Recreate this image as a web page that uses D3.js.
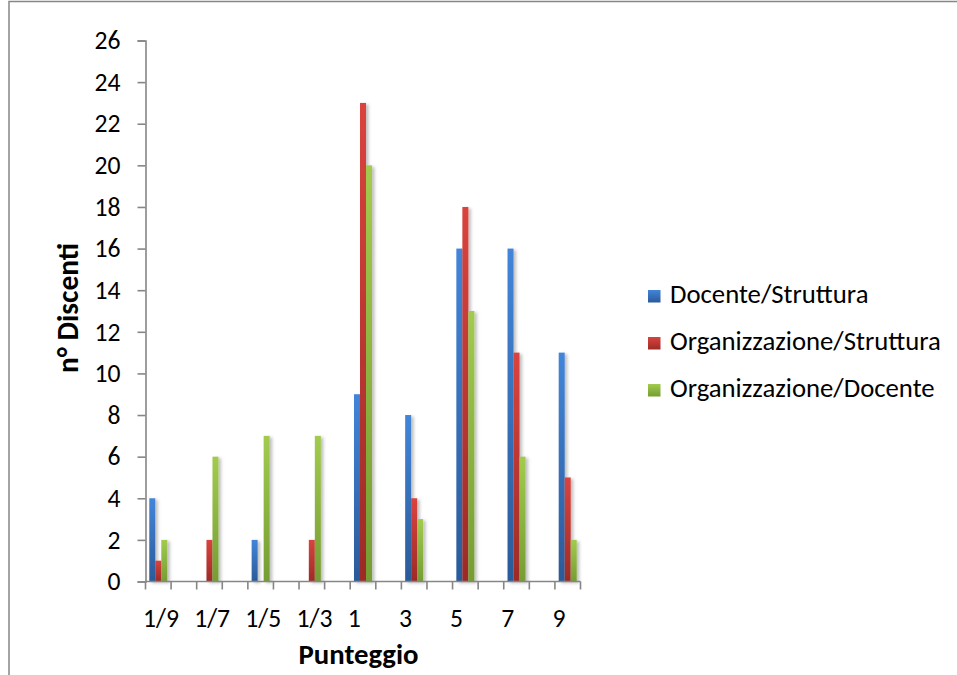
<!DOCTYPE html>
<html>
<head>
<meta charset="utf-8">
<script src="https://cdn.jsdelivr.net/npm/d3@7"></script>
<style>
  html, body { margin: 0; padding: 0; background: #fff; }
  svg { display: block; font-family: Carlito, Calibri, Lato, "Open Sans", sans-serif; }
</style>
</head>
<body>
<svg id="chart" width="957" height="675"></svg>
<script>
// Score categories (one every other slot on the axis)
const categories = ["1/9", "1/7", "1/5", "1/3", "1", "3", "5", "7", "9"];
const seriesNames = ["Docente/Struttura", "Organizzazione/Struttura", "Organizzazione/Docente"];
const docenteStruttura        = [4, 0, 2, 0, 9, 8, 16, 16, 11];
const organizzazioneStruttura = [1, 2, 0, 2, 23, 4, 18, 11, 5];
const organizzazioneDocente   = [2, 6, 7, 7, 20, 3, 13, 6, 2];
const yTicks = d3.range(0, 27, 2);

const seriesValues = [docenteStruttura, organizzazioneStruttura, organizzazioneDocente];
const colors = [
  { top: "#4285d9", bottom: "#2b5a99" },
  { top: "#da433e", bottom: "#9c2b27" },
  { top: "#a2cb4e", bottom: "#759d33" }
];

const svg = d3.select("#chart");
const W = 957, H = 675;
const plot = { left: 145.5, right: 580.5, top: 40.5, bottom: 581.5 };

// Scale a text selection's font size so that a sample string spans a given width
function fitFont(sel, sample, width, weight) {
  const probe = svg.append("text").attr("font-size", 100)
    .attr("font-weight", weight || "normal").text(sample);
  const w = probe.node().getComputedTextLength();
  probe.remove();
  const size = 100 * width / w;
  sel.attr("font-size", size);
  return size;
}

// Outer frame
svg.append("rect")
  .attr("x", 9).attr("y", 1.5)
  .attr("width", W + 10).attr("height", H + 10)
  .attr("fill", "#fff").attr("stroke", "#868686").attr("stroke-width", 1.5);

const defs = svg.append("defs");
colors.forEach((c, i) => {
  const g = defs.append("linearGradient")
    .attr("id", "grad" + i).attr("x1", 0).attr("y1", 0).attr("x2", 0).attr("y2", 1);
  g.append("stop").attr("offset", "0%").attr("stop-color", c.top);
  g.append("stop").attr("offset", "100%").attr("stop-color", c.bottom);
});
const shadow = defs.append("filter").attr("id", "shadow")
  .attr("x", "-50%").attr("y", "-10%").attr("width", "250%").attr("height", "120%");
shadow.append("feDropShadow")
  .attr("dx", 2.5).attr("dy", 1.5).attr("stdDeviation", 1.6)
  .attr("flood-color", "#000").attr("flood-opacity", 0.25);

// 17 slots: labelled categories sit in the even slots
const nSlots = categories.length * 2 - 1;
const x = d3.scaleBand()
  .domain(d3.range(nSlots))
  .range([plot.left, plot.right])
  .paddingInner(0).paddingOuter(0);
const xSub = d3.scaleBand()
  .domain(d3.range(seriesNames.length))
  .range([0, x.bandwidth()])
  .paddingOuter(0.63);

const y = d3.scaleLinear().domain([0, 26]).range([plot.bottom, plot.top]);

// Bars
const barsG = svg.append("g");
seriesValues.forEach((vals, s) => {
  barsG.append("g")
    .attr("filter", "url(#shadow)")
    .selectAll("rect")
    .data(vals.map((v, i) => ({ v, i })).filter(d => d.v > 0))
    .join("rect")
    .attr("x", d => x(d.i * 2) + xSub(s))
    .attr("width", xSub.bandwidth())
    .attr("y", d => y(d.v))
    .attr("height", d => y(0) - y(d.v))
    .attr("fill", `url(#grad${s})`);
});

// Y axis
const yAxis = d3.axisLeft(y).tickValues(yTicks).tickSize(8).tickPadding(17);
const yG = svg.append("g").attr("transform", `translate(${plot.left},0)`).call(yAxis);
yG.attr("font-family", null);
yG.select(".domain").attr("stroke", "#868686").attr("stroke-width", 1.6);
yG.selectAll(".tick line").attr("stroke", "#868686").attr("stroke-width", 1.6);
const tickSize = fitFont(yG.selectAll(".tick text"), "26", 26);
yG.selectAll(".tick text").attr("fill", "#000");

// X axis: tick marks at slot boundaries, labels on even slots
const xG = svg.append("g");
xG.append("line")
  .attr("x1", plot.left).attr("x2", plot.right)
  .attr("y1", y(0)).attr("y2", y(0))
  .attr("stroke", "#868686").attr("stroke-width", 1.6);
const boundaries = d3.range(nSlots + 1).map(i => i < nSlots ? x(i) : x(nSlots - 1) + x.bandwidth());
xG.selectAll("line.tick")
  .data(boundaries)
  .join("line").attr("class", "tick")
  .attr("x1", d => d).attr("x2", d => d)
  .attr("y1", y(0)).attr("y2", y(0) + 8)
  .attr("stroke", "#868686").attr("stroke-width", 1.6);
xG.selectAll("text")
  .data(categories)
  .join("text")
  .attr("x", (d, i) => x(i * 2) - 2.5)
  .attr("y", 626.5)
  .attr("text-anchor", "start")
  .attr("font-size", tickSize)
  .text(d => d);

// Axis titles
const xTitle = svg.append("text")
  .attr("x", 358.5)
  .attr("y", 664)
  .attr("text-anchor", "middle")
  .attr("font-weight", "bold")
  .text("Punteggio");
fitFont(xTitle, "Punteggio", 120, "bold");
const yTitle = svg.append("text")
  .attr("transform", `translate(78,308) rotate(-90)`)
  .attr("text-anchor", "middle")
  .attr("font-weight", "bold")
  .text("n° Discenti");
fitFont(yTitle, "n° Discenti", 130, "bold");

// Legend
const legend = svg.append("g").attr("transform", "translate(648,302.5)");
const rows = legend.selectAll("g")
  .data(seriesNames)
  .join("g")
  .attr("transform", (d, i) => `translate(0,${i * 47})`);
rows.append("rect").attr("x", 0).attr("y", -12.5).attr("width", 12.5).attr("height", 12.5)
  .attr("fill", (d, i) => `url(#grad${i})`);
const legendText = rows.append("text").attr("x", 22).attr("y", 0).text(d => d);
fitFont(legendText, "Organizzazione/Struttura", 271);
</script>
</body>
</html>
